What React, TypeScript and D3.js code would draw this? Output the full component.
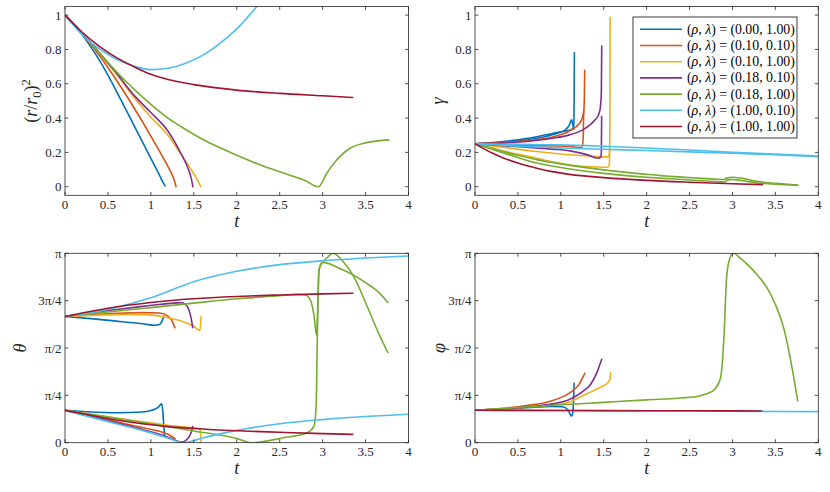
import React from "react";
import * as d3 from "d3";

type Pt = [number, number];

// ---------- series meta ----------
const seriesRho = ["0.00", "0.10", "0.10", "0.18", "0.18", "1.00", "1.00"];
const seriesLambda = ["1.00", "0.10", "1.00", "0.10", "1.00", "0.10", "1.00"];
const seriesColors = ["#0072BD", "#D95319", "#EDB120", "#7E2F8E", "#77AC30", "#4DBEEE", "#A2142F"];

// ---------- ticks ----------
const xTicks = [0, 0.5, 1, 1.5, 2, 2.5, 3, 3.5, 4];
const unitTicks = [0, 0.2, 0.4, 0.6, 0.8, 1];
const unitTickLabels = ["0", "0.2", "0.4", "0.6", "0.8", "1"];
const angleTicks = [0, 0.25, 0.5, 0.75, 1]; // in units of pi
const angleTickLabels = ["0", "π/4", "π/2", "3π/4", "π"];

// ---------- (r/r0)^2 ----------
const r2Blue: Pt[] = [[0, 1], [0.1, 0.945], [0.2, 0.885], [0.3, 0.815], [0.4, 0.738], [0.5, 0.65], [0.6, 0.555], [0.8, 0.36], [1.0, 0.165], [1.1, 0.068], [1.14, 0.027], [1.165, 0.005]];
const r2Orange: Pt[] = [[0, 1], [0.2, 0.89], [0.4, 0.765], [0.6, 0.62], [0.8, 0.463], [1.0, 0.295], [1.1, 0.207], [1.2, 0.117], [1.25, 0.067], [1.28, 0.026], [1.293, 0]];
const r2Yellow: Pt[] = [[0, 1], [0.2, 0.895], [0.4, 0.777], [0.6, 0.655], [0.8, 0.522], [1.0, 0.405], [1.19, 0.305], [1.34, 0.197], [1.46, 0.107], [1.53, 0.05], [1.582, 0]];
const r2Purple: Pt[] = [[0, 1], [0.2, 0.895], [0.4, 0.78], [0.6, 0.662], [0.8, 0.535], [1.0, 0.432], [1.19, 0.33], [1.34, 0.203], [1.44, 0.098], [1.47, 0.05], [1.489, 0]];
const r2Green: Pt[] = [[0, 1], [0.2, 0.89], [0.4, 0.78], [0.6, 0.67], [0.8, 0.57], [1.0, 0.48], [1.2, 0.4], [1.4, 0.335], [1.6, 0.277], [1.8, 0.228], [2.0, 0.183], [2.3, 0.122], [2.6, 0.07], [2.8, 0.035], [2.95, 0.0], [3.05, 0.08], [3.13, 0.136], [3.32, 0.224], [3.51, 0.257], [3.77, 0.273]];
const r2LightBlue: Pt[] = [[0, 1], [0.2, 0.885], [0.408, 0.8], [0.6, 0.743], [0.8, 0.703], [1.0, 0.682], [1.2, 0.69], [1.4, 0.718], [1.6, 0.765], [1.8, 0.834], [2.0, 0.92], [2.25, 1.06]];
const r2Red: Pt[] = [[0, 1], [0.2, 0.9], [0.408, 0.815], [0.6, 0.752], [0.8, 0.7], [1.0, 0.655], [1.2, 0.625], [1.5, 0.595], [2.0, 0.563], [2.5, 0.544], [3.0, 0.53], [3.35, 0.52]];

// ---------- gamma (two branches per series) ----------
const gBlueA: Pt[] = [[0, 0.25], [0.3, 0.258], [0.6, 0.272], [0.8, 0.29], [0.95, 0.31], [1.05, 0.33], [1.1, 0.36], [1.126, 0.39], [1.14, 0.36], [1.15, 0.335]];
const gBlueB: Pt[] = [[0, 0.25], [0.3, 0.262], [0.6, 0.28], [0.8, 0.3], [0.95, 0.315], [1.05, 0.325], [1.12, 0.332], [1.15, 0.345], [1.155, 0.5], [1.158, 0.78]];
const gOrangeA: Pt[] = [[0, 0.25], [0.3, 0.257], [0.6, 0.268], [0.9, 0.29], [1.1, 0.325], [1.2, 0.36], [1.25, 0.4], [1.268, 0.44], [1.275, 0.55], [1.278, 0.678]];
const gOrangeB: Pt[] = [[0, 0.25], [0.3, 0.245], [0.6, 0.241], [0.9, 0.238], [1.1, 0.235], [1.25, 0.228], [1.262, 0.3], [1.266, 0.44]];
const gYellowA: Pt[] = [[0, 0.25], [0.3, 0.232], [0.72, 0.205], [1.108, 0.186], [1.3, 0.18], [1.42, 0.176], [1.5, 0.174], [1.55, 0.175], [1.565, 0.19], [1.57, 0.225]];
const gYellowB: Pt[] = [[0, 0.25], [0.2, 0.225], [0.4, 0.2], [0.72, 0.166], [0.9, 0.145], [1.108, 0.127], [1.3, 0.118], [1.5, 0.113], [1.55, 0.114], [1.565, 0.13], [1.572, 0.4], [1.575, 0.987]];
const gPurpleA: Pt[] = [[0, 0.25], [0.3, 0.254], [0.6, 0.263], [0.9, 0.282], [1.1, 0.302], [1.25, 0.33], [1.34, 0.36], [1.4, 0.39], [1.44, 0.42], [1.46, 0.46], [1.472, 0.55], [1.477, 0.82]];
const gPurpleB: Pt[] = [[0, 0.25], [0.3, 0.24], [0.6, 0.23], [0.9, 0.219], [1.108, 0.209], [1.3, 0.187], [1.438, 0.166], [1.465, 0.172], [1.472, 0.2], [1.476, 0.41]];
const gGreenA: Pt[] = [[0, 0.25], [0.25, 0.215], [0.5, 0.183], [0.72, 0.158], [1.0, 0.133], [1.5, 0.098], [2.0, 0.072], [2.27, 0.06], [2.6, 0.05], [2.9, 0.042], [2.93, 0.05], [3.0, 0.055], [3.1, 0.05], [3.3, 0.03], [3.5, 0.02], [3.76, 0.01]];
const gGreenB: Pt[] = [[0, 0.25], [0.25, 0.21], [0.5, 0.17], [0.72, 0.138], [1.0, 0.112], [1.5, 0.078], [2.0, 0.055], [2.27, 0.046], [2.6, 0.036], [2.9, 0.028], [2.92, 0.03], [2.94, 0.04], [3.0, 0.042], [3.1, 0.036], [3.3, 0.022], [3.5, 0.014], [3.76, 0.008]];
const gLightBlueA: Pt[] = [[0, 0.25], [0.5, 0.247], [1.0, 0.244], [1.5, 0.236], [2.0, 0.226], [2.5, 0.214], [3.0, 0.2], [3.5, 0.19], [4.0, 0.178]];
const gLightBlueB: Pt[] = [[0, 0.25], [0.5, 0.236], [1.0, 0.226], [1.5, 0.218], [2.0, 0.211], [2.5, 0.203], [3.0, 0.195], [3.5, 0.186], [4.0, 0.175]];
const gRedA: Pt[] = [[0, 0.25], [0.1, 0.222], [0.2, 0.196], [0.33, 0.168], [0.5, 0.138], [0.72, 0.108], [0.9, 0.088], [1.1, 0.072], [1.5, 0.053], [2.0, 0.037], [2.5, 0.026], [3.0, 0.017], [3.35, 0.012]];

// ---------- theta (units of pi, two branches) ----------
const thBlueU: Pt[] = [[0, 0.666], [0.3, 0.655], [0.6, 0.642], [0.9, 0.628], [1.05, 0.62], [1.1, 0.624], [1.13, 0.642], [1.15, 0.668]];
const thBlueL: Pt[] = [[0, 0.171], [0.3, 0.162], [0.6, 0.158], [0.9, 0.162], [1.0, 0.17], [1.08, 0.185], [1.126, 0.205], [1.14, 0.16], [1.152, 0.08], [1.16, 0.035]];
const thOrangeU: Pt[] = [[0, 0.666], [0.3, 0.675], [0.6, 0.683], [0.9, 0.687], [1.1, 0.685], [1.2, 0.668], [1.25, 0.64], [1.28, 0.607]];
const thOrangeL: Pt[] = [[0, 0.171], [0.3, 0.14], [0.6, 0.11], [0.9, 0.08], [1.1, 0.06], [1.2, 0.045], [1.28, 0.022]];
const thYellowU: Pt[] = [[0, 0.666], [0.3, 0.672], [0.6, 0.676], [0.9, 0.676], [1.2, 0.66], [1.4, 0.635], [1.5, 0.615], [1.57, 0.593], [1.58, 0.63], [1.585, 0.666]];
const thYellowL: Pt[] = [[0, 0.171], [0.3, 0.15], [0.6, 0.13], [0.9, 0.11], [1.2, 0.092], [1.4, 0.082], [1.57, 0.074], [1.58, 0.04], [1.585, 0.0]];
const thPurpleU: Pt[] = [[0, 0.666], [0.3, 0.685], [0.6, 0.703], [0.9, 0.72], [1.1, 0.73], [1.3, 0.738], [1.36, 0.739], [1.4, 0.732], [1.44, 0.705], [1.47, 0.655], [1.487, 0.607]];
const thPurpleL: Pt[] = [[0, 0.171], [0.3, 0.14], [0.6, 0.105], [0.9, 0.07], [1.1, 0.045], [1.25, 0.02], [1.35, 0.003], [1.4, 0.01], [1.45, 0.035], [1.48, 0.07], [1.487, 0.085]];
const thGreenU: Pt[] = [[0, 0.666], [0.5, 0.69], [1.0, 0.713], [1.5, 0.737], [2.0, 0.76], [2.5, 0.776], [2.7, 0.783], [2.8, 0.78], [2.86, 0.75], [2.9, 0.67], [2.93, 0.567], [2.945, 0.75], [2.96, 0.92], [3.0, 0.952], [3.2, 0.92], [3.36, 0.885], [3.5, 0.845], [3.65, 0.795], [3.76, 0.74]];
const thGreenL: Pt[] = [[0, 0.171], [0.5, 0.135], [1.0, 0.1], [1.5, 0.062], [2.0, 0.022], [2.17, 0.0], [2.54, 0.026], [2.82, 0.053], [2.9, 0.088], [2.925, 0.2], [2.94, 0.6], [2.955, 0.9], [2.98, 0.94], [3.05, 0.975], [3.12, 1.0], [3.25, 0.95], [3.36, 0.88], [3.5, 0.74], [3.65, 0.58], [3.76, 0.475]];
const thLightBlueU: Pt[] = [[0, 0.666], [0.5, 0.704], [1.0, 0.765], [1.5, 0.85], [2.0, 0.905], [2.5, 0.94], [3.0, 0.96], [3.5, 0.975], [4.0, 0.986]];
const thLightBlueL: Pt[] = [[0, 0.171], [0.3, 0.135], [0.6, 0.1], [0.9, 0.065], [1.2, 0.025], [1.38, 0.0], [1.6, 0.025], [2.0, 0.065], [2.5, 0.1], [3.0, 0.122], [3.5, 0.138], [4.0, 0.15]];
const thRedU: Pt[] = [[0, 0.666], [0.5, 0.71], [1.0, 0.74], [1.5, 0.76], [2.0, 0.772], [2.5, 0.78], [3.0, 0.786], [3.35, 0.789]];
const thRedL: Pt[] = [[0, 0.171], [0.3, 0.145], [0.6, 0.12], [0.9, 0.1], [1.2, 0.085], [1.5, 0.075], [2.0, 0.063], [2.5, 0.055], [3.0, 0.048], [3.35, 0.044]];

// ---------- phi (units of pi) ----------
const phBlue: Pt[] = [[0, 0.171], [0.3, 0.178], [0.6, 0.185], [0.9, 0.192], [1.02, 0.19], [1.08, 0.175], [1.126, 0.141], [1.14, 0.16], [1.15, 0.25], [1.155, 0.313]];
const phOrange: Pt[] = [[0, 0.171], [0.3, 0.18], [0.6, 0.196], [0.9, 0.222], [1.0, 0.238], [1.1, 0.262], [1.2, 0.3], [1.28, 0.366]];
const phYellow: Pt[] = [[0, 0.171], [0.3, 0.176], [0.6, 0.186], [0.9, 0.2], [1.1, 0.215], [1.3, 0.258], [1.45, 0.29], [1.55, 0.318], [1.575, 0.335], [1.58, 0.37]];
const phPurple: Pt[] = [[0, 0.171], [0.3, 0.177], [0.6, 0.188], [0.9, 0.205], [1.1, 0.228], [1.25, 0.268], [1.35, 0.31], [1.42, 0.37], [1.46, 0.42], [1.476, 0.44]];
const phGreen: Pt[] = [[0, 0.171], [0.5, 0.186], [1.0, 0.2], [1.5, 0.213], [2.0, 0.226], [2.4, 0.236], [2.6, 0.245], [2.7, 0.258], [2.8, 0.285], [2.86, 0.34], [2.9, 0.55], [2.93, 0.86], [2.96, 0.96], [3.01, 1.0], [3.1, 0.97], [3.2, 0.93], [3.3, 0.88], [3.4, 0.82], [3.5, 0.73], [3.6, 0.6], [3.7, 0.38], [3.76, 0.22]];
const phLightBlue: Pt[] = [[0, 0.171], [1, 0.17], [2, 0.168], [3, 0.166], [4, 0.164]];
const phRed: Pt[] = [[0, 0.171], [1, 0.17], [2, 0.169], [3, 0.168], [3.34, 0.167]];

const r2Series: Pt[][][] = [[r2Blue], [r2Orange], [r2Yellow], [r2Purple], [r2Green], [r2LightBlue], [r2Red]];
const gammaSeries: Pt[][][] = [[gBlueA, gBlueB], [gOrangeA, gOrangeB], [gYellowA, gYellowB], [gPurpleA, gPurpleB], [gGreenA, gGreenB], [gLightBlueA, gLightBlueB], [gRedA]];
const thetaSeries: Pt[][][] = [[thBlueU, thBlueL], [thOrangeU, thOrangeL], [thYellowU, thYellowL], [thPurpleU, thPurpleL], [thGreenU, thGreenL], [thLightBlueU, thLightBlueL], [thRedU, thRedL]];
const phiSeries: Pt[][][] = [[phBlue], [phOrange], [phYellow], [phPurple], [phGreen], [phLightBlue], [phRed]];

const FONT = "'Liberation Serif', 'DejaVu Serif', serif";
const AX = "#262626";

type PanelProps = {
  id: string;
  x0: number; x1: number; y0: number; y1: number;
  yDomain: [number, number];
  yTicks: number[];
  yTickLabels: string[];
  series: Pt[][][];
  yLabel: React.ReactNode;
};

function Panel(p: PanelProps) {
  const x = d3.scaleLinear().domain([0, 4]).range([p.x0, p.x1]);
  const y = d3.scaleLinear().domain(p.yDomain).range([p.y1, p.y0]);
  const line = d3.line<Pt>().x((d) => x(d[0])).y((d) => y(d[1])).curve(d3.curveMonotoneX);
  const tl = 3.4;
  return (
    <g>
      <defs>
        <clipPath id={p.id}>
          <rect x={p.x0} y={p.y0} width={p.x1 - p.x0} height={p.y1 - p.y0} />
        </clipPath>
      </defs>
      <rect x={p.x0} y={p.y0} width={p.x1 - p.x0} height={p.y1 - p.y0} fill="#fff" />
      <g clipPath={`url(#${p.id})`}>
        {p.series.map((branches, si) =>
          branches.map((pts, bi) => (
            <path key={`${si}-${bi}`} d={line(pts) || ""} fill="none" stroke={seriesColors[si]} strokeWidth={1.6} strokeLinejoin="round" strokeLinecap="round" />
          ))
        )}
      </g>
      <rect x={p.x0} y={p.y0} width={p.x1 - p.x0} height={p.y1 - p.y0} fill="none" stroke={AX} strokeWidth={0.8} />
      {xTicks.map((t) => (
        <g key={`xt${t}`}>
          <line x1={x(t)} x2={x(t)} y1={p.y1} y2={p.y1 - tl} stroke={AX} strokeWidth={0.8} />
          <line x1={x(t)} x2={x(t)} y1={p.y0} y2={p.y0 + tl} stroke={AX} strokeWidth={0.8} />
          <text x={x(t)} y={p.y1 + 13.5} textAnchor="middle" fontFamily={FONT} fontSize={13} fill={AX}>{String(t)}</text>
        </g>
      ))}
      {p.yTicks.map((v, i) => (
        <g key={`yt${v}`}>
          <line x1={p.x0} x2={p.x0 + tl} y1={y(v)} y2={y(v)} stroke={AX} strokeWidth={0.8} />
          <line x1={p.x1} x2={p.x1 - tl} y1={y(v)} y2={y(v)} stroke={AX} strokeWidth={0.8} />
          <text x={p.x0 - 3.5} y={y(v) + 4.5} textAnchor="end" fontFamily={FONT} fontSize={13} fill={AX}>{p.yTickLabels[i]}</text>
        </g>
      ))}
      <text x={(p.x0 + p.x1) / 2} y={p.y1 + 31.5} textAnchor="middle" fontFamily={FONT} fontSize={18} fontStyle="italic" fill={AX}>t</text>
      {p.yLabel}
    </g>
  );
}

function Legend() {
  const x0 = 633, y0 = 17, w = 164, h = 121;
  const rowY = (i: number) => 29.3 + i * 16.2;
  return (
    <g>
      <rect x={x0} y={y0} width={w} height={h} fill="#fff" stroke={AX} strokeWidth={0.9} />
      {seriesColors.map((c, i) => (
        <g key={`lg${i}`}>
          <line x1={640} x2={682} y1={rowY(i)} y2={rowY(i)} stroke={c} strokeWidth={1.6} />
          <text x={687} y={rowY(i) + 4.5} fontFamily={FONT} fontSize={13.8} fill="#000">
            {"("}
            <tspan fontStyle="italic">ρ</tspan>
            {", "}
            <tspan fontStyle="italic">λ</tspan>
            {") = ("}
            {seriesRho[i]}
            {", "}
            {seriesLambda[i]}
            {")"}
          </text>
        </g>
      ))}
    </g>
  );
}

export default function App() {
  const L0 = 65, L1 = 408.5, R0 = 475, R1 = 818.3;
  const T0 = 6.5, T1 = 195.3, B0 = 253.3, B1 = 442.7;
  return (
    <svg width={830} height={492} viewBox="0 0 830 492" style={{ position: "absolute", left: 0, top: 0, background: "#fff" }}>
      <rect x={0} y={0} width={830} height={492} fill="#fff" />
      <Panel
        id="c1" x0={L0} x1={L1} y0={T0} y1={T1} yDomain={[-0.05, 1.05]}
        yTicks={unitTicks} yTickLabels={unitTickLabels} series={r2Series}
        yLabel={
          <text transform={`translate(37,${(T0 + T1) / 2}) rotate(-90)`} textAnchor="middle" fontFamily={FONT} fontSize={18} fill={AX}>
            {"("}
            <tspan fontStyle="italic">r</tspan>
            {"/"}
            <tspan fontStyle="italic">r</tspan>
            <tspan fontSize={12.5} dy={3.5}>0</tspan>
            <tspan dy={-3.5}>{")"}</tspan>
            <tspan fontSize={12.5} dy={-7}>2</tspan>
          </text>
        }
      />
      <Panel
        id="c2" x0={R0} x1={R1} y0={T0} y1={T1} yDomain={[-0.05, 1.05]}
        yTicks={unitTicks} yTickLabels={unitTickLabels} series={gammaSeries}
        yLabel={
          <text transform={`translate(444,${(T0 + T1) / 2}) rotate(-90)`} textAnchor="middle" fontFamily={FONT} fontSize={18} fontStyle="italic" fill={AX}>γ</text>
        }
      />
      <Panel
        id="c3" x0={L0} x1={L1} y0={B0} y1={B1} yDomain={[0, 1]}
        yTicks={angleTicks} yTickLabels={angleTickLabels} series={thetaSeries}
        yLabel={
          <text transform={`translate(26,${(B0 + B1) / 2}) rotate(-90)`} textAnchor="middle" fontFamily={FONT} fontSize={18} fontStyle="italic" fill={AX}>θ</text>
        }
      />
      <Panel
        id="c4" x0={R0} x1={R1} y0={B0} y1={B1} yDomain={[0, 1]}
        yTicks={angleTicks} yTickLabels={angleTickLabels} series={phiSeries}
        yLabel={
          <text transform={`translate(445,${(B0 + B1) / 2}) rotate(-90)`} textAnchor="middle" fontFamily={FONT} fontSize={18} fontStyle="italic" fill={AX}>φ</text>
        }
      />
      <Legend />
    </svg>
  );
}
